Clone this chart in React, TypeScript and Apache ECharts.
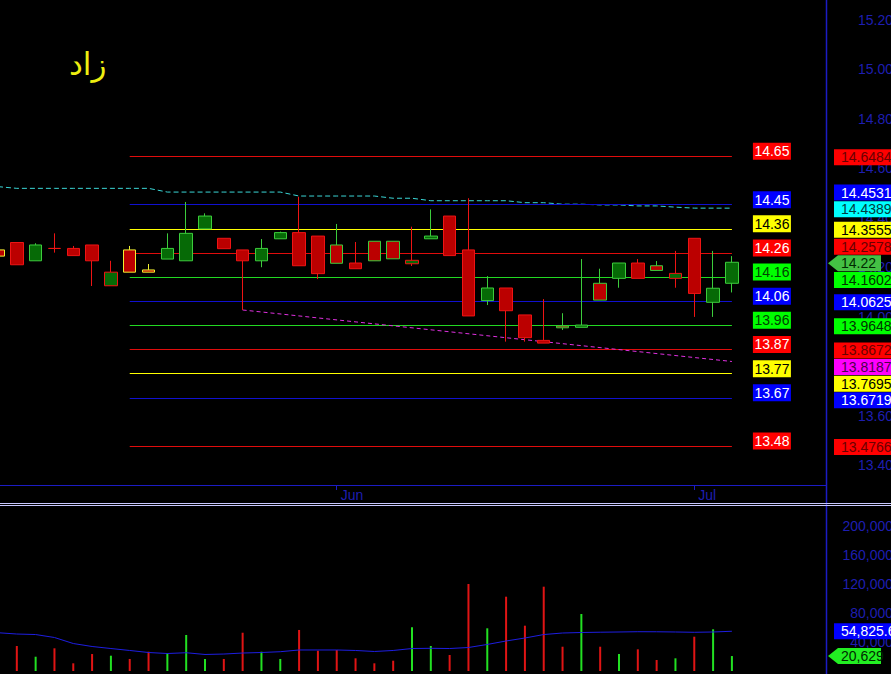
import { useEffect, useRef } from "react";
import * as echarts from "echarts";

// ---------- data ----------
const dates = [
  "2023-05-05", "2023-05-08", "2023-05-09", "2023-05-10", "2023-05-11", "2023-05-12",
  "2023-05-15", "2023-05-16", "2023-05-17", "2023-05-18", "2023-05-19", "2023-05-22",
  "2023-05-23", "2023-05-24", "2023-05-25", "2023-05-26", "2023-05-30", "2023-05-31",
  "2023-06-01", "2023-06-02", "2023-06-05", "2023-06-06", "2023-06-07", "2023-06-08",
  "2023-06-09", "2023-06-12", "2023-06-13", "2023-06-14", "2023-06-15", "2023-06-16",
  "2023-06-20", "2023-06-21", "2023-06-22", "2023-06-23", "2023-06-26", "2023-06-27",
  "2023-06-28", "2023-07-03", "2023-07-05", "2023-07-06",
  "2023-07-07", "2023-07-10", "2023-07-11", "2023-07-12", "2023-07-13",
];
const opens = [
  14.27, 14.3, 14.226, 14.276, 14.276, 14.29, 14.125, 14.27, 14.189, 14.233,
  14.226, 14.355, 14.317, 14.27, 14.226, 14.315, 14.34, 14.326, 14.29, 14.217,
  14.305, 14.305, 14.214, 14.315, 14.407, 14.27, 14.065, 14.116, 14.007, 13.904,
  13.962, 13.957, 14.135, 14.155, 14.217, 14.206, 14.155, 14.317, 14.058, 14.135,
];
const closes = [
  14.245, 14.21, 14.29, 14.276, 14.247, 14.226, 14.18, 14.18, 14.18, 14.276,
  14.337, 14.407, 14.275, 14.226, 14.276, 14.34, 14.206, 14.174, 14.216, 14.194,
  14.226, 14.234, 14.228, 14.326, 14.247, 14.003, 14.116, 14.024, 13.915, 13.893,
  13.955, 13.966, 14.067, 14.217, 14.155, 14.187, 14.175, 14.094, 14.115, 14.22,
];
const lows = [
  14.245, 14.21, 14.226, 14.259, 14.247, 14.124, 14.125, 14.18, 14.18, 14.233,
  14.226, 14.355, 14.275, 14.027, 14.2, 14.315, 14.206, 14.152, 14.216, 14.194,
  14.226, 14.234, 14.205, 14.315, 14.247, 14.003, 14.047, 13.899, 13.899, 13.893,
  13.946, 13.957, 14.067, 14.117, 14.155, 14.187, 14.117, 13.999, 13.999, 14.098,
];
const highs = [
  14.27, 14.3, 14.297, 14.337, 14.286, 14.29, 14.226, 14.286, 14.213, 14.337,
  14.464, 14.418, 14.317, 14.27, 14.314, 14.344, 14.485, 14.326, 14.375, 14.302,
  14.305, 14.305, 14.364, 14.434, 14.407, 14.479, 14.164, 14.116, 14.007, 14.071,
  14.014, 14.233, 14.194, 14.217, 14.233, 14.225, 14.266, 14.317, 14.266, 14.245,
];
const firstPrevClose = 14.245;

const volumes = [
  30000, 34500, 19700, 31300, 10600, 23400, 21100, 16600, 26600, 24400,
  49700, 16600, 16600, 52800, 26600, 16600, 56600, 28000, 29000, 17500,
  10600, 14200, 60300, 34500, 22100, 120000, 58900, 102500, 62500, 116300,
  33500, 78600, 33500, 23400, 29900, 15200, 17500, 47300, 57500, 20629,
];
const volumeAverage = [
  52800, 51000, 50300, 46200, 37900, 33800, 31000, 28300, 25500, 24100,
  25200, 22800, 23400, 24800, 25500, 26600, 29000, 29000, 29000, 28300,
  26900, 28300, 31000, 31300, 31000, 32400, 36600, 41400, 45500, 50300,
  52400, 53100, 53500, 53800, 54200, 54100, 53800, 53400, 53800, 54825.6,
];
const priceAverage = [
  14.526, 14.519, 14.519, 14.519, 14.519, 14.519, 14.519, 14.519, 14.519, 14.504,
  14.504, 14.504, 14.504, 14.504, 14.504, 14.504, 14.488, 14.488, 14.488, 14.488,
  14.488, 14.479, 14.479, 14.469, 14.469, 14.469, 14.469, 14.469, 14.461, 14.461,
  14.455, 14.455, 14.452, 14.452, 14.448, 14.448, 14.443, 14.439, 14.439, 14.4389,
];
const levelValues = [
  14.6484, 14.4531, 14.3555, 14.2578, 14.1602, 14.0625, 13.9648, 13.8672, 13.7695, 13.6719, 13.4766,
];
const levelRange = [7, 39];
const trendIndex = [13, 39];
const trendValues = [14.027, 13.8187];
const title = "زاد";

// ---------- styles ----------
const levelTones = ["red", "blue", "yellow", "red", "green", "blue", "green", "red", "yellow", "blue", "red"];
const tone: Record<string, { line: string; box: string; text: string; rtext: string }> = {
  red: { line: "#e00c0c", box: "#ff0000", text: "#ffffff", rtext: "#6a0000" },
  blue: { line: "#1010d0", box: "#0000ff", text: "#ffffff", rtext: "#ffffff" },
  yellow: { line: "#ffff00", box: "#ffff00", text: "#000000", rtext: "#000000" },
  green: { line: "#22d822", box: "#00ff00", text: "#004400", rtext: "#003300" },
  cyan: { line: "#3ad6d6", box: "#00ffff", text: "#003c3c", rtext: "#003c3c" },
  magenta: { line: "#e030e0", box: "#ff00ff", text: "#4d004d", rtext: "#4d004d" },
};
const FONT = "'Liberation Sans', Arial, Helvetica, sans-serif";
const AXIS_BLUE = "#1c1cc4";
const LABEL_BLUE = "#1e1eb0";
const RED_FILL = "#bb0000";
const GREEN_FILL = "#066a06";
const RED_EDGE = "#ee1414";
const GREEN_EDGE = "#3ccc3c";
const YELLOW_EDGE = "#f0f030";

const monthStart = (idx: number) =>
  idx > 0 && dates[idx].slice(5, 7) !== dates[idx - 1].slice(5, 7);
const monthNames = ["Jan", "Feb", "Mar", "Apr", "May", "Jun", "Jul", "Aug", "Sep", "Oct", "Nov", "Dec"];

function placeLabels(ys: number[], h: number): number[] {
  const placed: number[] = [];
  const out: number[] = [];
  const free = (y: number) => placed.every((p) => Math.abs(p - y) >= h - 0.01);
  for (const y of ys) {
    let best = y;
    if (!free(best)) {
      const cands = placed.flatMap((p) => [p - h, p + h]).filter(free);
      cands.sort((a, b) => Math.abs(a - y) - Math.abs(b - y));
      if (cands.length) best = cands[0];
    }
    placed.push(best);
    out.push(best);
  }
  return out;
}

export default function App() {
  const ref = useRef<HTMLDivElement>(null);
  useEffect(() => {
    document.body.style.margin = "0";
    document.body.style.background = "#000";
    const chart = echarts.init(ref.current!, null, { renderer: "svg" });

    const candleData = opens.map((o, i) => {
      const c = closes[i];
      const prev = i === 0 ? firstPrevClose : closes[i - 1];
      const fill = c > o ? GREEN_FILL : RED_FILL;
      const edge = c > prev ? GREEN_EDGE : c < prev ? RED_EDGE : YELLOW_EDGE;
      return {
        value: [o, c, lows[i], highs[i]],
        itemStyle: { color: fill, color0: fill, borderColor: edge, borderColor0: edge },
      };
    });
    const volumeData = volumes.map((v, i) => ({
      value: v,
      itemStyle: { color: closes[i] > opens[i] ? "#22e022" : "#e01414" },
    }));

    const levelLines = levelValues.map((v, i) => [
      { coord: [dates[levelRange[0]], v], lineStyle: { color: tone[levelTones[i]].line, width: 1, type: "solid" } },
      { coord: [dates[levelRange[1]], v] },
    ]);
    const trendLine = [
      { coord: [dates[trendIndex[0]], trendValues[0]], lineStyle: { color: tone.magenta.line, width: 1, type: [4, 3] } },
      { coord: [dates[trendIndex[1]], trendValues[1]] },
    ];

    chart.setOption({
      animation: false,
      backgroundColor: "#000000",
      grid: [
        { left: -2, width: 828, top: 20, height: 445, outerBoundsMode: "none", containLabel: false },
        { left: -2, width: 828, top: 526, height: 145, outerBoundsMode: "none", containLabel: false },
      ],
      xAxis: [
        {
          type: "category",
          gridIndex: 0,
          data: dates,
          boundaryGap: false,
          offset: 20,
          axisLine: { show: true, lineStyle: { color: AXIS_BLUE, width: 1 } },
          axisTick: { show: true, interval: monthStart, length: 5, lineStyle: { color: AXIS_BLUE } },
          axisLabel: {
            show: true,
            interval: monthStart,
            formatter: (v: string) => monthNames[parseInt(v.slice(5, 7), 10) - 1],
            align: "left",
            color: LABEL_BLUE,
            fontSize: 14,
            fontFamily: FONT,
            margin: 3,
            padding: [0, 0, 0, 4],
          },
          splitLine: { show: false },
        },
        {
          type: "category",
          gridIndex: 1,
          data: dates,
          boundaryGap: false,
          axisLine: { show: false },
          axisTick: { show: false },
          axisLabel: { show: false },
          splitLine: { show: false },
        },
      ],
      yAxis: [
        {
          type: "value",
          gridIndex: 0,
          position: "right",
          min: 13.4,
          max: 15.2,
          interval: 0.2,
          axisLine: { show: false },
          axisTick: { show: false },
          splitLine: { show: false },
          axisLabel: {
            color: LABEL_BLUE,
            fontSize: 14,
            fontFamily: FONT,
            align: "right",
            margin: 67,
            formatter: (v: number) => v.toFixed(2),
          },
        },
        {
          type: "value",
          gridIndex: 1,
          position: "right",
          min: 0,
          max: 200000,
          interval: 40000,
          axisLine: { show: false },
          axisTick: { show: false },
          splitLine: { show: false },
          axisLabel: {
            color: LABEL_BLUE,
            fontSize: 14,
            fontFamily: FONT,
            align: "right",
            margin: 67,
            showMinLabel: false,
            formatter: (v: number) => v.toLocaleString("en-US"),
          },
        },
      ],
      series: [
        {
          type: "line",
          xAxisIndex: 0,
          yAxisIndex: 0,
          data: priceAverage,
          symbol: "none",
          z: 3,
          lineStyle: { color: tone.cyan.line, width: 1, type: [5, 3] },
          silent: true,
        },
        {
          type: "candlestick",
          xAxisIndex: 0,
          yAxisIndex: 0,
          data: candleData,
          barWidth: 13,
          z: 10,
          itemStyle: { borderWidth: 1 },
          markLine: {
            silent: true,
            symbol: ["none", "none"],
            label: { show: false },
            emphasis: { disabled: true },
            data: [...levelLines, trendLine],
          },
        },
        {
          type: "bar",
          xAxisIndex: 1,
          yAxisIndex: 1,
          data: volumeData,
          barWidth: 2,
          silent: true,
        },
        {
          type: "line",
          xAxisIndex: 1,
          yAxisIndex: 1,
          data: volumeAverage,
          symbol: "none",
          lineStyle: { color: "#1e1ee0", width: 1 },
          silent: true,
        },
      ],
    });

    const yPrice = (v: number) => chart.convertToPixel({ yAxisIndex: 0 }, v) as number;
    const yVol = (v: number) => chart.convertToPixel({ yAxisIndex: 1 }, v) as number;
    const xAt = (i: number) => chart.convertToPixel({ xAxisIndex: 0 }, dates[i]) as number;

    const elements: any[] = [];
    // title
    elements.push({
      type: "text",
      x: 69,
      y: 48,
      style: { text: title, fill: "#eeee10", fontSize: 31, fontFamily: "'DejaVu Sans', sans-serif" },
    });
    // frame lines
    elements.push({
      type: "line",
      shape: { x1: 826.5, y1: 0, x2: 826.5, y2: 674 },
      style: { stroke: AXIS_BLUE, lineWidth: 1.5 },
    });
    elements.push({
      type: "line",
      shape: { x1: 0, y1: 503.5, x2: 891, y2: 503.5 },
      style: { stroke: "#c8c8ff", lineWidth: 1 },
    });
    elements.push({
      type: "line",
      shape: { x1: 0, y1: 505.5, x2: 891, y2: 505.5 },
      style: { stroke: "#c8c8ff", lineWidth: 1 },
    });

    // level labels next to line ends
    const xEnd = xAt(levelRange[1]);
    levelValues.forEach((v, i) => {
      const t = tone[levelTones[i]];
      const y = yPrice(v) - 5;
      elements.push({
        type: "rect",
        z: 50,
        shape: { x: xEnd + 21, y: y - 8.5, width: 38, height: 17 },
        style: { fill: t.box },
      });
      elements.push({
        type: "text",
        z: 51,
        x: xEnd + 21 + 19,
        y: y,
        style: {
          text: v.toFixed(2),
          fill: t.text,
          fontSize: 14,
          fontFamily: FONT,
          align: "center",
          verticalAlign: "middle",
        },
      });
    });

    // right axis tags
    type Tag = { value: number; text: string; t: string; arrow?: boolean };
    const lastClose = closes[closes.length - 1];
    const fixedTags: Tag[] = [
      { value: lastClose, text: String(lastClose), t: "green", arrow: true },
      { value: priceAverage[priceAverage.length - 1], text: priceAverage[priceAverage.length - 1].toFixed(4), t: "cyan" },
    ];
    const otherTags: Tag[] = [
      ...levelValues.map((v, i) => ({ value: v, text: v.toFixed(4), t: levelTones[i] })),
      { value: trendValues[1], text: trendValues[1].toFixed(4), t: "magenta" },
    ].sort((a, b) => b.value - a.value);
    const tags = [...fixedTags, ...otherTags];
    const placedY = placeLabels(tags.map((tg) => yPrice(tg.value)), 16.6);

    const drawTag = (y: number, text: string, t: string, arrow: boolean, arrowColor?: string) => {
      const tt = tone[t];
      if (arrow) {
        elements.push({
          type: "polygon",
          z: 60,
          shape: { points: [[828, y], [838, y - 8], [881, y - 8], [881, y + 8], [838, y + 8]] },
          style: { fill: arrowColor || "#44c044" },
        });
      } else {
        elements.push({
          type: "rect",
          z: 60,
          shape: { x: 834, y: y - 8, width: 60, height: 16 },
          style: { fill: tt.box },
        });
      }
      elements.push({
        type: "text",
        z: 61,
        x: 841,
        y: y,
        style: { text, fill: arrow ? "#002a00" : tt.rtext, fontSize: 14, fontFamily: FONT, verticalAlign: "middle" },
      });
    };
    tags.forEach((tg, i) => drawTag(placedY[i] + 1, tg.text, tg.t, !!tg.arrow));

    // volume tags
    const lastAvg = volumeAverage[volumeAverage.length - 1];
    const lastVol = volumes[volumes.length - 1];
    drawTag(yVol(lastAvg), lastAvg.toLocaleString("en-US", { maximumFractionDigits: 1 }), "blue", false);
    drawTag(yVol(lastVol), lastVol.toLocaleString("en-US"), "green", true, "#22ee22");

    chart.setOption({ graphic: { elements } });
    return () => chart.dispose();
  }, []);
  return <div ref={ref} style={{ width: 891, height: 674, background: "#000" }} />;
}
